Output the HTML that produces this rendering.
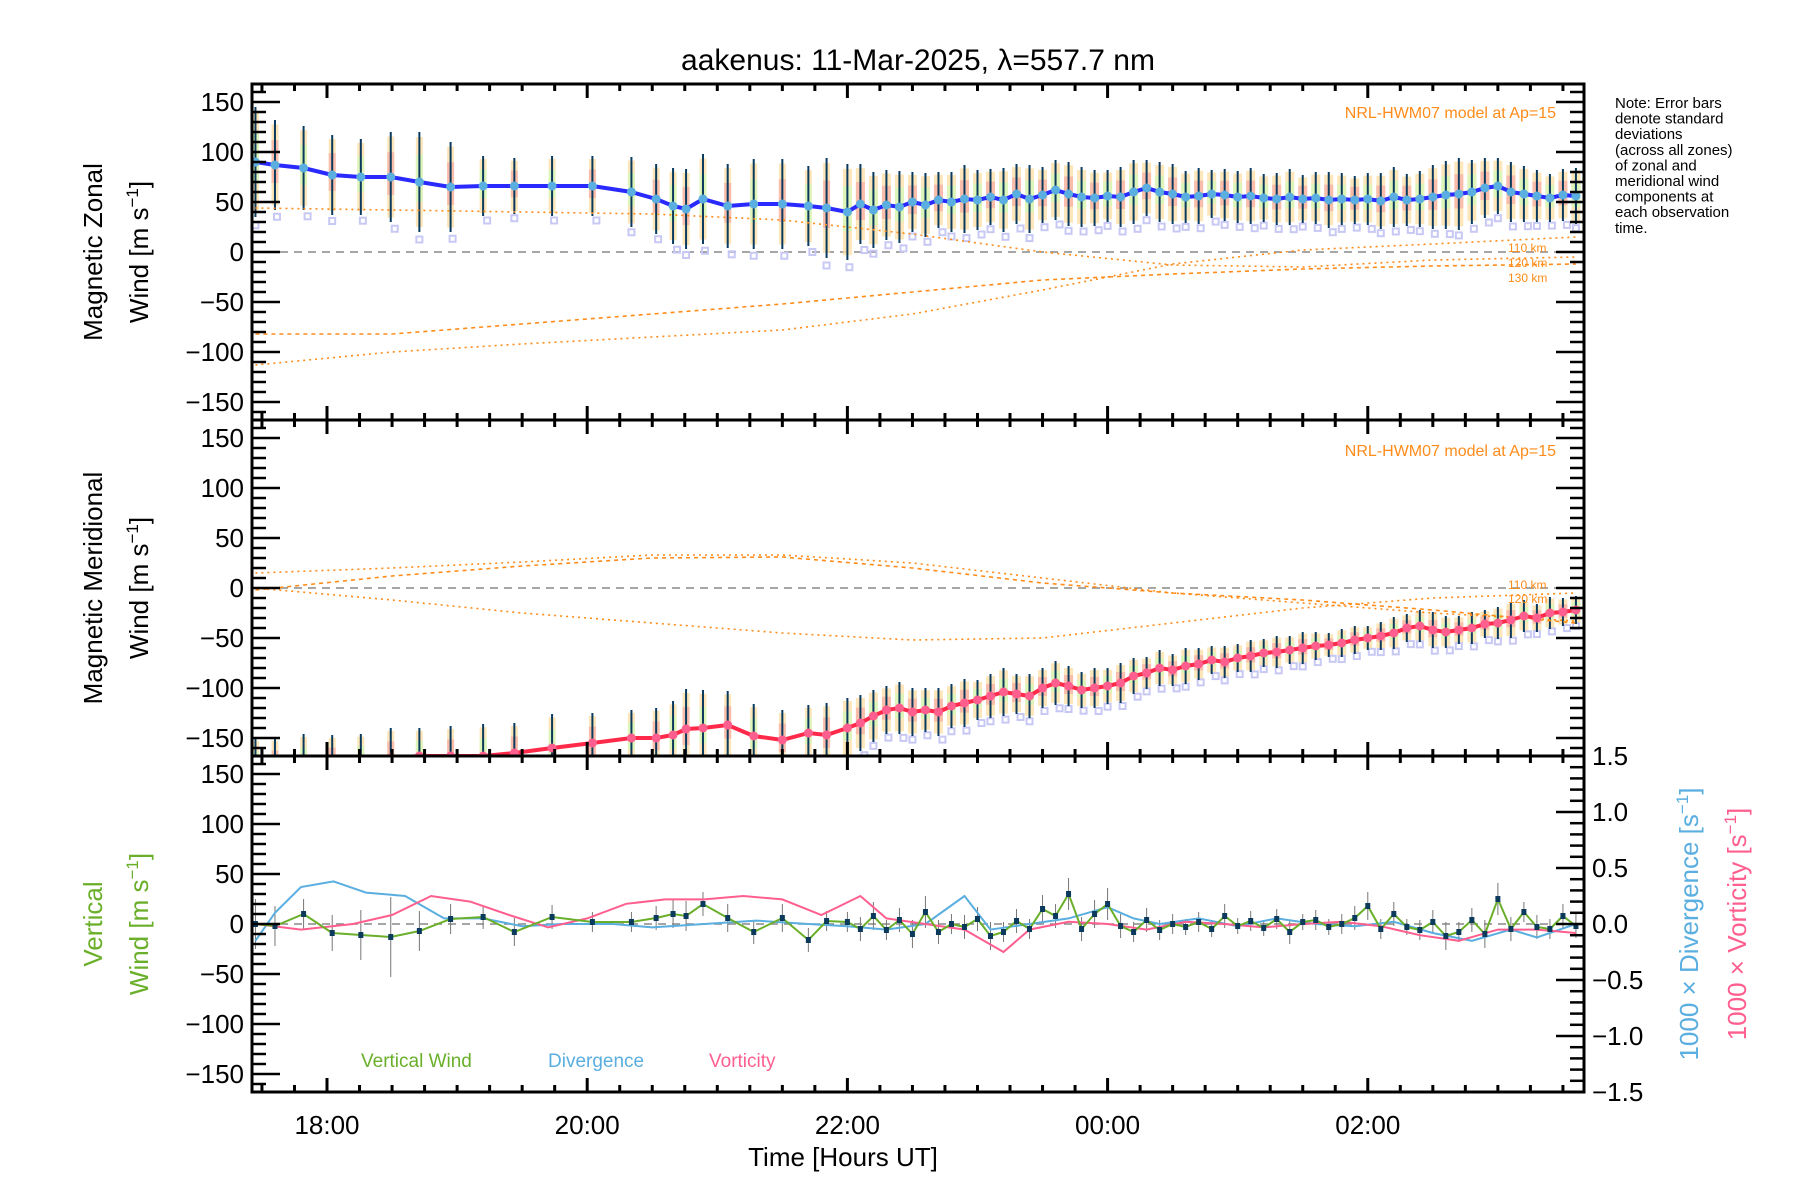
<!DOCTYPE html>
<html><head><meta charset="utf-8"><title>aakenus winds</title>
<style>
html,body{margin:0;padding:0;background:#fff;}
svg{display:block;font-family:"Liberation Sans",sans-serif;}
</style></head>
<body>
<svg id="chart" width="1800" height="1200" viewBox="0 0 1800 1200" xmlns="http://www.w3.org/2000/svg">
<rect x="0" y="0" width="1800" height="1200" fill="#fff"/>
<text x="918" y="70" font-size="30" text-anchor="middle">aakenus: 11-Mar-2025, λ=557.7 nm</text>
<g id="marks"></g>
<g id="axes"></g>
<text x="1615" y="108" font-size="15"><tspan x="1615" dy="0">Note: Error bars</tspan><tspan x="1615" dy="15.6">denote standard</tspan><tspan x="1615" dy="15.6">deviations</tspan><tspan x="1615" dy="15.6">(across all zones)</tspan><tspan x="1615" dy="15.6">of zonal and</tspan><tspan x="1615" dy="15.6">meridional wind</tspan><tspan x="1615" dy="15.6">components at</tspan><tspan x="1615" dy="15.6">each observation</tspan><tspan x="1615" dy="15.6">time.</tspan></text>
<text x="1556" y="118" font-size="16" fill="#ff8c1a" text-anchor="end">NRL-HWM07 model at Ap=15</text>
<text x="1556" y="456" font-size="16" fill="#ff8c1a" text-anchor="end">NRL-HWM07 model at Ap=15</text>
<g font-size="12" fill="#ff8c1a">
<text x="1508" y="252">110 km</text><text x="1508" y="267">120 km</text><text x="1508" y="282">130 km</text></g>
<g font-size="12" fill="#ff8c1a">
<text x="1508" y="589">110 km</text><text x="1508" y="603">120 km</text></g>
<g font-size="26" text-anchor="middle">
<text transform="translate(102,252) rotate(-90)">Magnetic Zonal</text>
<text transform="translate(148,252) rotate(-90)">Wind [m s<tspan dy="-10" font-size="17">−1</tspan><tspan dy="10">]</tspan></text>
<text transform="translate(102,588) rotate(-90)">Magnetic Meridional</text>
<text transform="translate(148,588) rotate(-90)">Wind [m s<tspan dy="-10" font-size="17">−1</tspan><tspan dy="10">]</tspan></text>
<text transform="translate(102,924) rotate(-90)" fill="#6aaf2a">Vertical</text>
<text transform="translate(148,924) rotate(-90)" fill="#6aaf2a">Wind [m s<tspan dy="-10" font-size="17">−1</tspan><tspan dy="10">]</tspan></text>
<text transform="translate(1698,924) rotate(-90)" fill="#5aaee0">1000 × Divergence [s<tspan dy="-10" font-size="17">−1</tspan><tspan dy="10">]</tspan></text>
<text transform="translate(1746,924) rotate(-90)" fill="#ff5f8f">1000 × Vorticity [s<tspan dy="-10" font-size="17">−1</tspan><tspan dy="10">]</tspan></text>
</g>
<g font-size="19">
<text x="361" y="1067" fill="#6aaf2a">Vertical Wind</text>
<text x="548" y="1067" fill="#5aaee0">Divergence</text>
<text x="709" y="1067" fill="#ff5f8f">Vorticity</text>
</g>
<text x="843" y="1166" font-size="26" text-anchor="middle">Time [Hours UT]</text>
</svg>
<script>
// ---- data ----
const times = [17.45,17.6,17.82,18.04,18.26,18.49,18.71,18.95,19.2,19.44,19.73,20.04,20.34,20.53,20.66,20.76,20.89,21.08,21.28,21.5,21.7,21.84,
22.0,22.1,22.2,22.3,22.4,22.5,22.6,22.7,22.8,22.9,23.0,23.1,23.2,23.3,23.4,23.5,23.6,23.7,23.8,23.9,24.0,24.1,24.2,24.3,24.4,24.5,24.6,24.7,24.8,24.9,
25.0,25.1,25.2,25.3,25.4,25.5,25.6,25.7,25.8,25.9,26.0,26.1,26.2,26.3,26.4,26.5,26.6,26.7,26.8,26.9,27.0,27.1,27.2,27.3,27.4,27.5,27.6];
const zonal = [90,87,84,77,75,75,70,65,66,66,66,66,60,53,46,43,53,46,48,48,46,44,
40,48,42,47,45,50,47,52,50,53,52,55,52,58,53,57,62,58,55,54,56,55,60,64,60,58,55,56,58,57,
55,56,54,53,55,53,54,52,53,52,53,51,55,52,53,55,57,58,60,64,66,60,58,56,54,57,56];
const zonalStd = [55,45,42,40,38,45,50,45,30,28,30,30,35,35,38,40,45,42,45,45,40,50,
48,40,38,35,36,30,32,28,30,34,30,28,32,30,34,28,30,32,30,28,26,30,32,28,30,30,26,28,24,26,
26,28,24,26,28,24,26,28,26,24,26,28,30,26,28,32,34,36,32,30,28,30,28,26,24,26,28];
const merid = [-180,-178,-176,-175,-172,-170,-168,-168,-168,-165,-160,-155,-150,-150,-147,-141,-140,-137,-148,-152,-145,-147,
-140,-135,-128,-122,-120,-124,-122,-124,-118,-115,-112,-108,-104,-106,-108,-100,-95,-98,-102,-100,-98,-95,-88,-85,-80,-82,-78,-76,-72,-74,
-70,-68,-65,-64,-62,-60,-58,-57,-55,-52,-50,-48,-45,-40,-38,-42,-44,-42,-40,-36,-35,-32,-28,-30,-25,-24,-22];
const meridStd = [30,28,30,28,26,30,28,30,32,30,34,30,28,30,34,40,38,34,32,30,28,32,
30,28,26,24,26,24,22,24,22,24,20,22,24,20,22,20,22,20,18,20,18,20,18,16,18,16,18,16,14,16,
14,16,14,16,14,16,14,12,14,14,12,14,16,14,16,18,16,14,16,14,16,18,16,14,16,14,14];
const vwind = [0,-2,10,-9,-11,-13,-7,5,7,-8,7,2,2,6,10,8,20,6,-8,6,-16,3,
2,-5,8,-6,4,-10,12,-8,0,-3,5,-12,-8,3,-5,15,8,30,-5,10,20,-2,-8,4,-6,0,-3,2,-5,8,
-2,3,-4,5,-8,2,4,-3,0,6,18,-5,10,-3,-6,2,-12,-8,4,-10,25,-5,12,-3,-5,8,-2];
const vwindStd = [25,20,15,18,25,40,20,15,12,14,12,10,10,12,14,15,12,14,12,14,12,10,
10,12,14,10,12,14,16,12,10,12,12,14,10,12,10,14,12,16,12,14,16,12,10,12,10,10,8,10,8,12,
8,10,8,10,12,8,10,8,10,12,14,10,12,8,10,12,14,10,12,14,16,12,10,12,10,12,12];
const divT = [17.45,17.6,17.8,18.05,18.3,18.6,18.9,19.2,19.5,19.8,20.2,20.5,20.9,21.3,21.7,22.0,22.3,22.6,22.9,23.1,23.4,23.7,24.0,24.2,24.4,24.7,25.0,25.3,25.6,25.9,26.2,26.5,26.8,27.1,27.3,27.6];
const divV = [-0.15,0.1,0.33,0.38,0.28,0.25,0.05,0.05,-0.02,0.0,0.0,-0.03,0.0,0.03,0.0,-0.02,-0.05,0.0,0.25,-0.05,0.0,0.05,0.15,0.05,0.0,0.05,-0.02,0.05,0.0,-0.02,0.02,-0.08,-0.15,-0.05,-0.12,0.0];
const vorT = [17.45,17.8,18.2,18.5,18.8,19.1,19.4,19.7,20.0,20.3,20.6,20.9,21.2,21.5,21.8,22.1,22.3,22.6,22.9,23.2,23.4,23.7,24.0,24.3,24.6,24.9,25.2,25.5,25.8,26.1,26.4,26.7,27.0,27.3,27.6];
const vorV = [0.0,-0.05,0.0,0.08,0.25,0.2,0.08,-0.03,0.05,0.18,0.22,0.22,0.25,0.22,0.08,0.25,0.05,0.0,-0.05,-0.25,-0.05,0.02,0.0,-0.05,0.02,0.0,-0.03,0.0,0.02,-0.02,-0.1,-0.15,-0.05,-0.05,-0.08];
const modelT = [17.45,18.5,19.5,20.5,21.5,22.5,23.5,24.5,25.5,26.5,27.6];
const zModelA = [44,42,40,38,32,18,0,-13,-15,-8,-5];
const zModelB = [-82,-82,-72,-62,-52,-40,-28,-22,-17,-14,-12];
const zModelC = [-113,-100,-92,-85,-78,-62,-38,-12,2,8,15];
const mModelA = [15,20,26,33,33,25,10,-5,-15,-25,-33];
const mModelB = [-2,12,22,30,31,20,5,-5,-12,-22,-35];
const mModelC = [0,-12,-25,-35,-45,-52,-50,-35,-20,-10,-5];
const xTickHours = [18,20,22,24,26];
const xTickLabels = ["18:00","20:00","22:00","00:00","02:00"];
const yTicks = [-150,-100,-50,0,50,100,150];
const rTicks = [-1.5,-1.0,-0.5,0.0,0.5,1.0,1.5];

// ---- geometry ----
const NS='http://www.w3.org/2000/svg';
const L=252,R=1584;
const panels=[{top:84,bot:420},{top:420,bot:756},{top:756,bot:1092}];
const T0=17.4235,T1=27.662;
const xs=h=>L+(h-T0)/(T1-T0)*(R-L);
const ys=(p,v)=>{const P=panels[p];const mid=(P.top+P.bot)/2;return mid-v*(P.bot-P.top)/336;};
const yr=v=>ys(2,v*112);
const marks=document.getElementById('marks');
const axes=document.getElementById('axes');
function mk(tag,attrs,parent){const e=document.createElementNS(NS,tag);for(const k in attrs)e.setAttribute(k,attrs[k]);(parent||marks).appendChild(e);return e;}

const defs=mk('defs',{},document.getElementById('chart'));
panels.forEach((P,i)=>{const c=mk('clipPath',{id:'clip'+i},defs);mk('rect',{x:L,y:P.top,width:R-L,height:P.bot-P.top},c);});
const groups=panels.map((P,i)=>{const g=mk('g',{'clip-path':'url(#clip'+i+')'});


return g;});

panels.forEach((P,i)=>{const z=mk('line',{x1:L,x2:R,y1:ys(i,0),y2:ys(i,0),stroke:'#888','stroke-width':1.5,'stroke-dasharray':'8,6'},groups[i]);

});

function poly(g,tx,vals,yf,style,name){const pts=tx.map((t,i)=>xs(t).toFixed(1)+','+yf(vals[i]).toFixed(1)).join(' ');
const e=mk('polyline',Object.assign({points:pts,fill:'none'},style),g);

return e;}

const pastel=['#f9b5a8','#fde0a8','#d8f7b8','#c8c8f4'];
function scatterPanel(p,vals,std,name){const g=groups[p];
times.forEach((t,i)=>{const x=xs(t),m=vals[i],s=std[i];
const w=i<22?7:9;
const r1=mk('rect',{x:x-w/2,y:ys(p,m+s*0.9),width:w,height:Math.abs(ys(p,m-s*0.9)-ys(p,m+s*0.9)),fill:pastel[1],opacity:0.8},g);


const r2=mk('rect',{x:x-w/2,y:ys(p,m+s*0.55),width:w,height:Math.abs(ys(p,m-s*0.4)-ys(p,m+s*0.55)),fill:pastel[i%2?0:2],opacity:0.85},g);


const o=mk('rect',{x:x-3+(i%3)*2,y:ys(p,m-s*1.15)-3,width:6,height:6,fill:'none',stroke:pastel[3],'stroke-width':2},g);

});
times.forEach((t,i)=>{const x=xs(t);
const e=mk('line',{x1:x,x2:x,y1:ys(p,vals[i]+std[i]),y2:ys(p,vals[i]-std[i]),stroke:'#0b3a5c','stroke-width':2},g);

});}
scatterPanel(0,zonal,zonalStd,'zonal');
scatterPanel(1,merid,meridStd,'meridional');

const ms={stroke:'#ff8c1a','stroke-width':1.6,'stroke-dasharray':'2,4'};
const msd={stroke:'#ff8c1a','stroke-width':1.6,'stroke-dasharray':'4,4'};
poly(groups[0],modelT,zModelA,v=>ys(0,v),ms,'zonal-model-110km');
poly(groups[0],modelT,zModelB,v=>ys(0,v),msd,'zonal-model-120km');
poly(groups[0],modelT,zModelC,v=>ys(0,v),ms,'zonal-model-130km');
poly(groups[1],modelT,mModelA,v=>ys(1,v),ms,'meridional-model-110km');
poly(groups[1],modelT,mModelB,v=>ys(1,v),msd,'meridional-model-120km');
poly(groups[1],modelT,mModelC,v=>ys(1,v),ms,'meridional-model-130km');

poly(groups[0],times,zonal,v=>ys(0,v),{stroke:'#2a2aff','stroke-width':4},'zonal-mean-line');
poly(groups[1],times,merid,v=>ys(1,v),{stroke:'#ff2a4a','stroke-width':4},'meridional-mean-line');
times.forEach((t,i)=>{const c=mk('circle',{cx:xs(t),cy:ys(0,zonal[i]),r:4.5,fill:'#5aaee0'},groups[0]);


const c2=mk('circle',{cx:xs(t),cy:ys(1,merid[i]),r:4.5,fill:'#ff5f8f'},groups[1]);

});

const g3=groups[2];
times.forEach((t,i)=>{const e=mk('line',{x1:xs(t),x2:xs(t),y1:ys(2,vwind[i]+vwindStd[i]),y2:ys(2,vwind[i]-vwindStd[i]),stroke:'#777','stroke-width':1},g3);

});
poly(g3,divT,divV,yr,{stroke:'#5aaee0','stroke-width':2},'divergence-line');
poly(g3,vorT,vorV,yr,{stroke:'#ff5f8f','stroke-width':2},'vorticity-line');
poly(g3,times,vwind,v=>ys(2,v),{stroke:'#6aaf2a','stroke-width':2},'vertical-wind-line');
times.forEach((t,i)=>{const c=mk('rect',{x:xs(t)-2.5,y:ys(2,vwind[i])-3,width:5,height:6,fill:'#0b3a5c'},g3);

});

panels.forEach((P,p)=>{
const f=mk('rect',{x:L,y:P.top,width:R-L,height:P.bot-P.top,fill:'none',stroke:'#000','stroke-width':3},axes);


for(let v=-160;v<=160;v+=10){const y=ys(p,v);const major=v%50===0;const len=major?28:14;
mk('line',{x1:L,x2:L+len,y1:y,y2:y,stroke:'#000','stroke-width':2.5},axes);
if(p<2)mk('line',{x1:R-len,x2:R,y1:y,y2:y,stroke:'#000','stroke-width':2.5},axes);}
yTicks.forEach(v=>{const t=mk('text',{x:L-8,y:ys(p,v)+9,'font-size':26,'text-anchor':'end'},axes);t.textContent=(v<0?'−':'')+Math.abs(v);

});
for(let h=17.5;h<=27.6;h+=0.25){const x=xs(h);const major=Math.abs((h-18)/2-Math.round((h-18)/2))<1e-6;const len=major?14:7;
mk('line',{x1:x,x2:x,y1:P.top,y2:P.top+len,stroke:'#000','stroke-width':3},axes);
mk('line',{x1:x,x2:x,y1:P.bot-len,y2:P.bot,stroke:'#000','stroke-width':3},axes);}
});
for(let k=-15;k<=15;k++){const y=yr(k/10);const len=k%5===0?28:14;mk('line',{x1:R-len,x2:R,y1:y,y2:y,stroke:'#000','stroke-width':2.5},axes);}
rTicks.forEach(v=>{const t=mk('text',{x:R+8,y:yr(v)+9,'font-size':26},axes);t.textContent=(v<0?'−':'')+Math.abs(v).toFixed(1);

});
xTickHours.forEach((h,i)=>{const t=mk('text',{x:xs(h),y:1134,'font-size':26,'text-anchor':'middle'},axes);t.textContent=xTickLabels[i];

});
</script>
</body></html>
